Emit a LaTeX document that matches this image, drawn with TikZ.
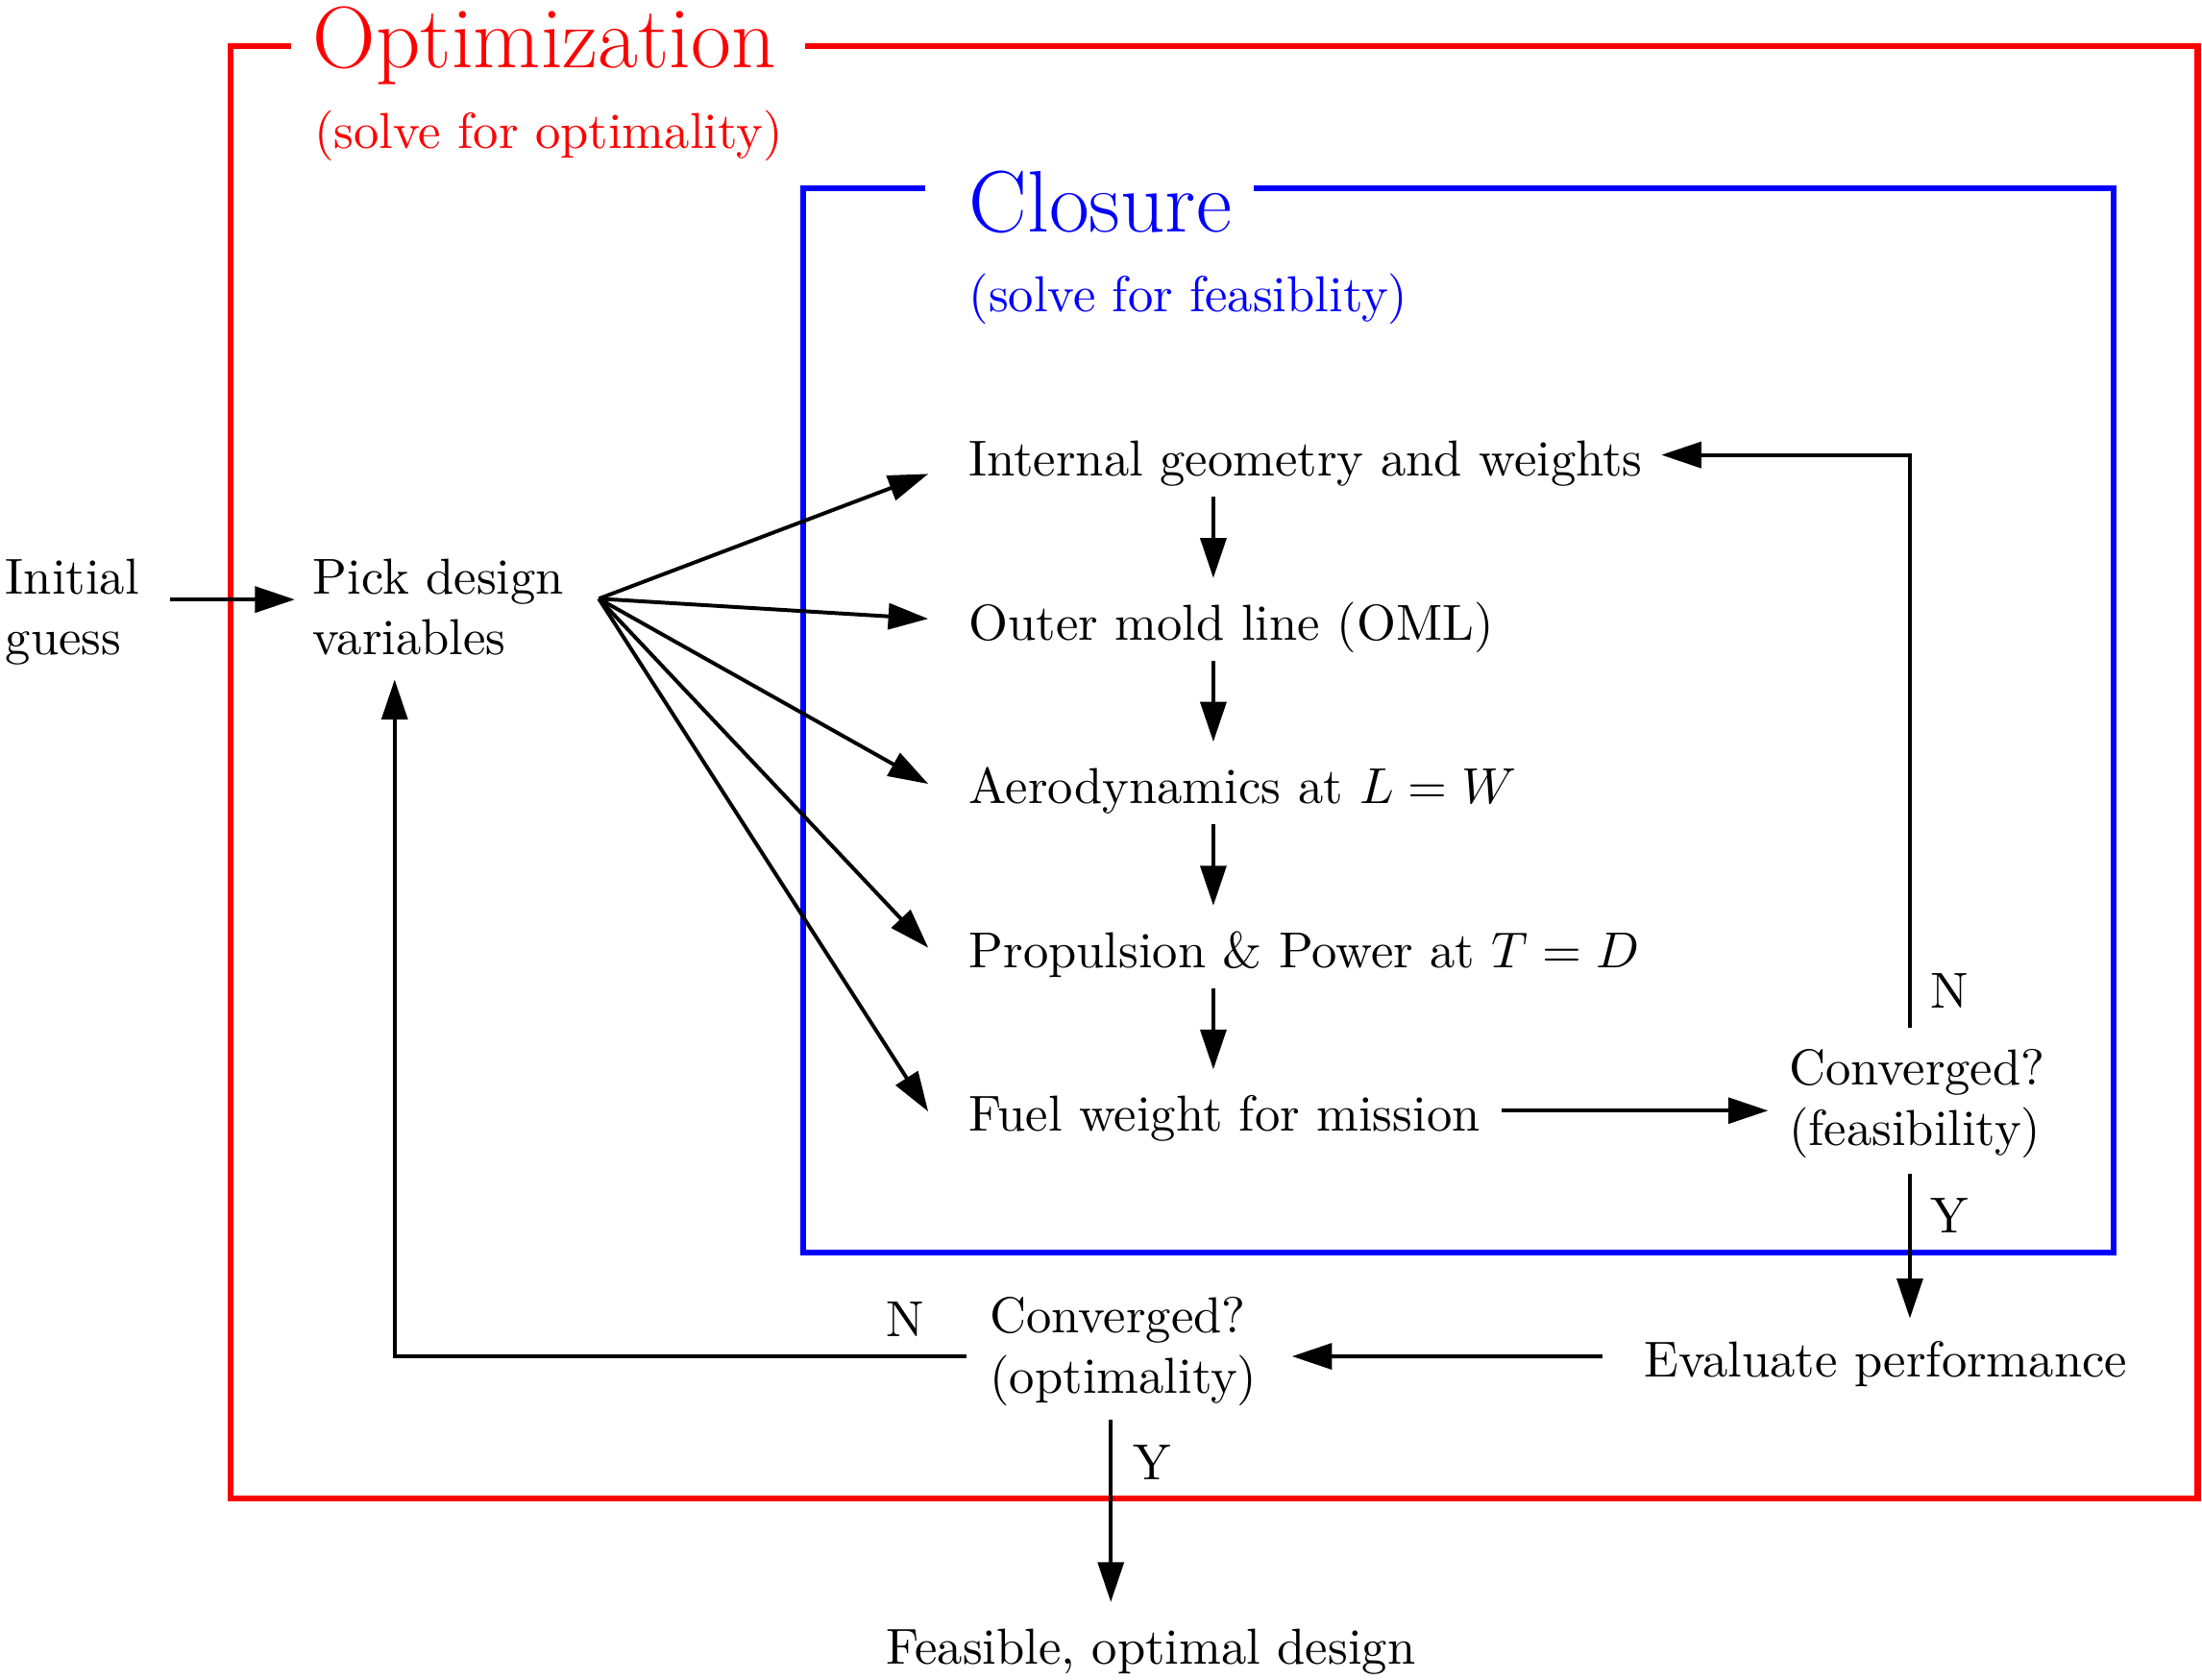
\documentclass[tikz,border=0pt]{standalone}
\usetikzlibrary{arrows.meta,calc}
\begin{document}
\begin{tikzpicture}[x=0.2778pt,y=-0.2778pt,
  txt/.style={inner sep=0pt, outer sep=0pt},
  arr/.style={line width=0.75pt, -{Triangle[length=7.9pt,width=5.1pt]}},
  conn/.style={line width=0.75pt},
  frame/.style={line width=1.2pt, line join=miter},
]
\useasboundingbox (0,0) rectangle (1568,1196);

% frames
\draw[frame, red] (207,33) -- (164,33) -- (164,1067) -- (1565,1067) -- (1565,33) -- (573,33);
\draw[frame, blue] (659,134) -- (572,134) -- (572,892) -- (1505,892) -- (1505,134) -- (893,134);

% titles
\node[txt, anchor=base west, text=red, font=\LARGE] (opt) at (223,48) {Optimization};
\node[txt, anchor=base west, text=red] (optsub) at (224,106) {(solve for optimality)};
\node[txt, anchor=base west, text=blue, font=\LARGE] (clo) at (690,165) {Closure};
\node[txt, anchor=base west, text=blue] (closub) at (690,222) {(solve for feasiblity)};

% nodes
\node[txt, anchor=north west, align=left] (init) at (4,398) {Initial\\guess};
\node[txt, anchor=north west, align=left] (pick) at (223,398) {Pick design\\variables};
\node[txt, anchor=base west] (int) at (690,339) {Internal geometry and weights};
\node[txt, anchor=base west] (oml) at (690,455.7) {Outer mold line (OML)};
\node[txt, anchor=base west] (aero) at (690,572.3) {Aerodynamics at $L = W$};
\node[txt, anchor=base west] (prop) at (690,689) {Propulsion \& Power at $T = D$};
\node[txt, anchor=base west] (fuel) at (690,805.7) {Fuel weight for mission};
\node[txt, anchor=north west, align=left] (convf) at (1274,747) {Converged?\\(feasibility)};
\node[txt, anchor=base west] (evalp) at (1171,981) {Evaluate performance};
\node[txt, anchor=north west, align=left] (convo) at (705,923.6) {Converged?\\(optimality)};
\node[txt, anchor=base west] (final) at (631,1185) {Feasible, optimal design};

% labels
\node[txt, anchor=base west] (nf) at (1375,718) {N};
\node[txt, anchor=base west] (yf) at (1375,878) {Y};
\node[txt, anchor=base west] (no) at (631,952) {N};
\node[txt, anchor=base west] (yo) at (807,1054) {Y};

% connectors
\draw[arr] ($(init.north west)+(117,29)$) -- ($(pick.north west)+(-13,29)$);
\coordinate (fan) at ($(pick.north west)+(203.4,28.4)$);
\draw[arr] (fan) -- ($(int.base west)+(-29,-1.5)$);
\draw[arr] (fan) -- ($(oml.base west)+(-29,-15)$);
\draw[arr] (fan) -- ($(aero.base west)+(-29,-14)$);
\draw[arr] (fan) -- ($(prop.base west)+(-29,-14)$);
\draw[arr] (fan) -- ($(fuel.base west)+(-29,-14)$);

\draw[arr] ($(int.base west)+(174,15)$) -- ($(oml.base west)+(174,-44)$);
\draw[arr] ($(oml.base west)+(174,15)$) -- ($(aero.base west)+(174,-44)$);
\draw[arr] ($(aero.base west)+(174,15)$) -- ($(prop.base west)+(174,-44)$);
\draw[arr] ($(prop.base west)+(174,15)$) -- ($(fuel.base west)+(174,-44)$);

\draw[arr] ($(fuel.base west)+(379,-14.7)$) -- ($(convf.north west)+(-15,44)$);
\draw[arr] ($(convf.north west)+(86,-15)$) |- ($(int.base west)+(493,-15)$);
\draw[arr] ($(convf.north west)+(86,89)$) -- ($(evalp.base west)+(189,-42)$);
\draw[arr] ($(evalp.base west)+(-30,-15)$) -- ($(convo.north west)+(215,42.4)$);
\draw[arr] ($(convo.north west)+(-17,42.4)$) -| ($(pick.north west)+(58,86)$);
\draw[arr] ($(convo.north west)+(86,87.4)$) -- ($(final.base west)+(160,-44)$);
\end{tikzpicture}
\end{document}
